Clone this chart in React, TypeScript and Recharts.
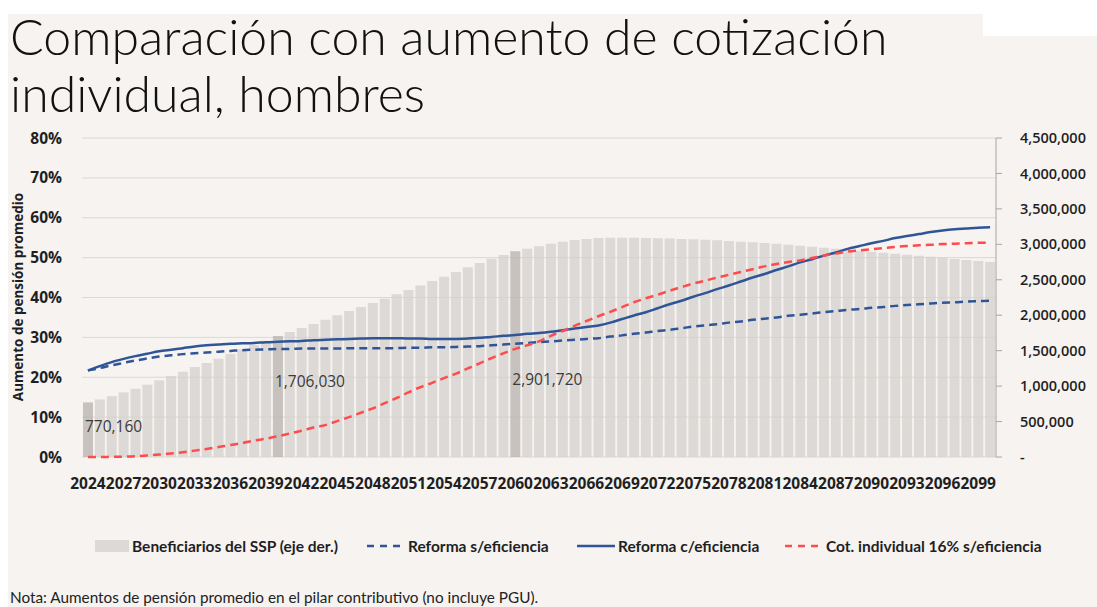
import React from "react";
import {
  ComposedChart,
  Bar,
  Line,
  XAxis,
  YAxis,
  CartesianGrid,
  Cell,
  LabelList,
} from "recharts";

// años 2024..2100 (el eje sólo rotula cada 3 años)
const years: string[] = [];
for (let y = 2024; y <= 2100; y++) years.push(String(y));

// Beneficiarios del SSP (eje der.)
const beneficiarios = [
  770160, 813000, 860000, 912000, 963000, 1020000, 1082000, 1142000, 1203000, 1269000,
  1326000, 1387000, 1453000, 1519000, 1580000, 1640000, 1706030, 1763000, 1819000, 1876000,
  1937000, 1999000, 2059000, 2116000, 2172000, 2233000, 2295000, 2355000, 2421000, 2482000,
  2543000, 2609000, 2675000, 2736000, 2797000, 2849000, 2901720, 2938000, 2973000, 3008000,
  3037000, 3061000, 3075000, 3089000, 3093000, 3093000, 3092000, 3090000, 3086000, 3081000,
  3076000, 3070000, 3065000, 3056000, 3047000, 3037000, 3028000, 3019000, 3009000, 2995000,
  2981000, 2966000, 2952000, 2938000, 2924000, 2910000, 2896000, 2882000, 2868000, 2853000,
  2839000, 2825000, 2811000, 2792000, 2778000, 2764000, 2750000,
];

// Reforma s/eficiencia (%)
const reformaSinEf = [
  21.7, 22.3, 23.0, 23.6, 24.2, 24.7, 25.2, 25.5, 25.8, 26.0,
  26.2, 26.4, 26.6, 26.8, 26.9, 27.0, 27.1, 27.1, 27.2, 27.2,
  27.2, 27.2, 27.3, 27.3, 27.3, 27.3, 27.3, 27.4, 27.4, 27.5,
  27.5, 27.6, 27.7, 27.8, 28.0, 28.2, 28.4, 28.6, 28.8, 29.0,
  29.2, 29.4, 29.6, 29.8, 30.2, 30.5, 30.9, 31.2, 31.6, 31.9,
  32.3, 32.7, 33.0, 33.3, 33.7, 34.0, 34.4, 34.7, 35.0, 35.4,
  35.7, 36.0, 36.3, 36.6, 36.9, 37.1, 37.4, 37.6, 37.9, 38.1,
  38.3, 38.5, 38.7, 38.8, 39.0, 39.1, 39.2,
];

// Reforma c/eficiencia (%)
const reformaConEf = [
  21.7, 22.8, 23.8, 24.6, 25.3, 25.9, 26.5, 26.9, 27.3, 27.7,
  28.0, 28.2, 28.4, 28.5, 28.6, 28.8, 28.9, 29.0, 29.1, 29.3,
  29.4, 29.5, 29.6, 29.7, 29.8, 29.8, 29.8, 29.7, 29.7, 29.6,
  29.6, 29.6, 29.7, 29.9, 30.1, 30.4, 30.6, 30.9, 31.1, 31.4,
  31.8, 32.2, 32.6, 33.0, 33.7, 34.6, 35.5, 36.3, 37.3, 38.3,
  39.2, 40.2, 41.1, 42.1, 43.0, 44.0, 45.0, 45.9, 46.9, 47.8,
  48.8, 49.6, 50.5, 51.3, 52.2, 52.9, 53.6, 54.2, 54.9, 55.4,
  55.9, 56.4, 56.8, 57.1, 57.3, 57.5, 57.6,
];

// Cot. individual 16% s/eficiencia (%)
const cotIndividual = [
  0.0, 0.0, 0.05, 0.1, 0.2, 0.4, 0.6, 0.9, 1.2, 1.6,
  2.0, 2.5, 3.0, 3.5, 4.1, 4.6, 5.2, 5.9, 6.6, 7.4,
  8.0, 9.0, 10.0, 11.1, 12.2, 13.5, 14.8, 16.2, 17.5, 18.6,
  19.8, 20.9, 22.2, 23.5, 24.8, 26.0, 27.1, 28.0, 29.0, 30.4,
  31.6, 32.9, 34.1, 35.3, 36.4, 37.6, 38.8, 39.8, 40.7, 41.7,
  42.6, 43.5, 44.2, 45.0, 45.7, 46.4, 47.1, 47.8, 48.4, 48.9,
  49.3, 49.9, 50.5, 51.0, 51.5, 51.8, 52.1, 52.4, 52.7, 52.9,
  53.1, 53.2, 53.4, 53.5, 53.6, 53.7, 53.7,
];

const destacados = ["2024", "2040", "2060"];
const leftTicks = [0, 10, 20, 30, 40, 50, 60, 70, 80];
const rightTicks = [0, 500000, 1000000, 1500000, 2000000, 2500000, 3000000, 3500000, 4000000, 4500000];

const data = years.map((year, i) => ({
  year,
  ben: beneficiarios[i],
  sEf: reformaSinEf[i],
  cEf: reformaConEf[i],
  cot: cotIndividual[i],
}));

const BLUE = "#2f5597";
const RED = "#ff4b4b";
const BG = "#f6f3f1";
const TEXT = "#1f1f1f";
const FONT = "'Open Sans', sans-serif";
const NARROW = "Lato, sans-serif";

// desplazamiento vertical de cada rótulo de dato respecto al tope de su barra
const labelDy: Record<string, number> = { "2024": 30, "2040": 51, "2060": 134 };

const fmtMiles = (v: number) => (v === 0 ? "-" : v.toLocaleString("en-US"));

function BarValueLabel(props: any) {
  const { x, y, value, index } = props;
  const year = years[index];
  if (!destacados.includes(year)) return null;
  return (
    <text
      x={x + 2}
      y={y + labelDy[year]}
      fill="#3b3b3b"
      fontSize={15.5}
      fontFamily={FONT}
    >
      {fmtMiles(value)}
    </text>
  );
}

function AxisTitle() {
  return (
    <text
      x={0}
      y={0}
      transform="translate(23, 297) rotate(-90)"
      textAnchor="middle"
      fill={TEXT}
      fontSize={13.5}
      fontWeight={700}
      fontFamily={FONT}
    >
      Aumento de pensión promedio
    </text>
  );
}

function LegendItem({ left, kind, color, label }: any) {
  let swatch;
  if (kind === "box") {
    swatch = <div style={{ width: 34, height: 12, background: "#dcd9d6" }} />;
  } else {
    swatch = (
      <svg width={38} height={12}>
        <line
          x1={0}
          y1={6}
          x2={38}
          y2={6}
          stroke={color}
          strokeWidth={2.5}
          strokeDasharray={kind === "dash" ? "7 6" : undefined}
        />
      </svg>
    );
  }
  return (
    <div
      style={{
        position: "absolute",
        left,
        top: 537,
        display: "flex",
        alignItems: "center",
        gap: 3,
        fontFamily: NARROW,
        fontWeight: 700,
        fontSize: 15.5,
        color: TEXT,
        whiteSpace: "nowrap",
      }}
    >
      {swatch}
      <span>{label}</span>
    </div>
  );
}

export default function App() {
  return (
    <div
      style={{
        position: "absolute",
        left: 0,
        top: 0,
        width: 1097,
        height: 607,
        background: "#fff",
        overflow: "hidden",
      }}
    >
      <div style={{ position: "absolute", left: 8, top: 14, width: 1089, height: 593, background: BG }} />
      <div style={{ position: "absolute", left: 983, top: 0, width: 114, height: 36, background: "#fff" }} />
      <div
        style={{
          position: "absolute",
          left: 10,
          top: 8,
          fontFamily: NARROW,
          fontWeight: 300,
          fontSize: 50,
          lineHeight: "57px",
          color: "#111",
          whiteSpace: "nowrap",
        }}
      >
        Comparación con aumento de cotización
        <br />
        individual, hombres
      </div>

      <div style={{ position: "absolute", left: 0, top: 0 }}>
        <ComposedChart
          width={1097}
          height={607}
          data={data}
          margin={{ top: 138, right: 0, bottom: 110, left: 0 }}
        >
          <CartesianGrid vertical={false} yAxisId="left" stroke="#d9d9d9" />
          <XAxis
            dataKey="year"
            interval={2}
            axisLine={false}
            tickLine={false}
            height={40}
            tickMargin={15}
            tick={{ fontSize: 15.5, fontWeight: 700, fill: TEXT, fontFamily: FONT }}
          />
          <YAxis
            yAxisId="left"
            orientation="left"
            width={82}
            domain={[0, 80]}
            ticks={leftTicks}
            tickFormatter={(v: number) => `${v}%`}
            axisLine={false}
            tickLine={false}
            tickMargin={14}
            tick={{ fontSize: 15.5, fontWeight: 700, fill: TEXT, fontFamily: FONT }}
          />
          <YAxis
            yAxisId="right"
            orientation="right"
            width={101}
            domain={[0, 4500000]}
            ticks={rightTicks}
            tickFormatter={fmtMiles}
            axisLine={{ stroke: "#a6a6a6" }}
            tickLine={{ stroke: "#a6a6a6" }}
            tickSize={6}
            tickMargin={18}
            tick={{ fontSize: 14.5, fontWeight: 600, fill: TEXT, fontFamily: FONT, textAnchor: "start" }}
          />
          <Bar
            dataKey="ben"
            yAxisId="right"
            barSize={10}
            fill="#d4d0cc"
            fillOpacity={0.75}
            isAnimationActive={false}
          >
            {data.map((d) => (
              <Cell key={d.year} fill={destacados.includes(d.year) ? "#b8b2ad" : "#d4d0cc"} />
            ))}
            <LabelList dataKey="ben" content={BarValueLabel} />
          </Bar>
          <Line
            type="monotone"
            dataKey="sEf"
            yAxisId="left"
            stroke={BLUE}
            strokeWidth={2.5}
            strokeDasharray="8 5"
            dot={false}
            activeDot={false}
            isAnimationActive={false}
          />
          <Line
            type="monotone"
            dataKey="cEf"
            yAxisId="left"
            stroke={BLUE}
            strokeWidth={2.5}
            dot={false}
            activeDot={false}
            isAnimationActive={false}
          />
          <Line
            type="monotone"
            dataKey="cot"
            yAxisId="left"
            stroke={RED}
            strokeWidth={2.5}
            strokeDasharray="8 5"
            dot={false}
            activeDot={false}
            isAnimationActive={false}
          />
          <AxisTitle />
        </ComposedChart>
      </div>

      <LegendItem left={95} kind="box" label="Beneficiarios del SSP (eje der.)" />
      <LegendItem left={367} kind="dash" color={BLUE} label="Reforma s/eficiencia" />
      <LegendItem left={577} kind="solid" color={BLUE} label="Reforma c/eficiencia" />
      <LegendItem left={785} kind="dash" color={RED} label="Cot. individual 16% s/eficiencia" />

      <div
        style={{
          position: "absolute",
          left: 10,
          top: 588,
          fontFamily: NARROW,
          fontSize: 15.3,
          color: "#222",
          whiteSpace: "nowrap",
        }}
      >
        Nota: Aumentos de pensión promedio en el pilar contributivo (no incluye PGU).
      </div>
    </div>
  );
}
